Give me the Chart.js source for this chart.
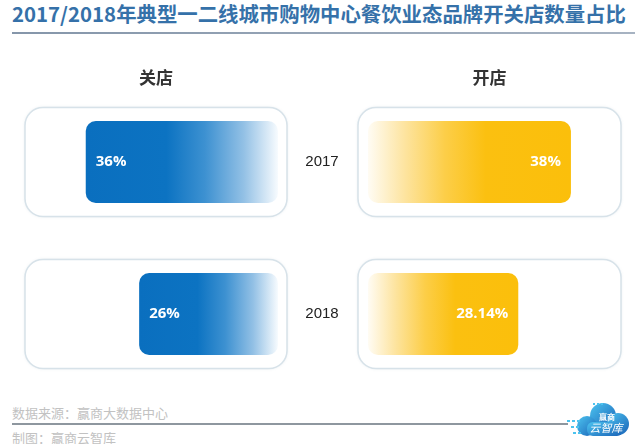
<!DOCTYPE html>
<html>
<head>
<meta charset="utf-8">
<script src="https://cdn.jsdelivr.net/npm/chart.js@4"></script>
<style>
  html, body { margin: 0; padding: 0; background: #fff; }
  body { width: 640px; height: 444px; position: relative; overflow: hidden;
         font-family: "Noto Sans CJK SC", "Noto Sans", sans-serif; }
  #title { position: absolute; left: 12px; top: -2px; font-size: 20.4px; font-weight: bold;
           color: #3571a9; white-space: nowrap; }
  #titleLine { position: absolute; left: 12px; top: 32px; width: 623px; height: 2px;
               background: linear-gradient(to right, #8596aa, #a7b3c2); }
  .box { position: absolute; top: 60px; height: 340px; }
  #srcText, #makeText { position: absolute; left: 12px; font-size: 13px; color: #c2c2c2; white-space: nowrap; }
  #srcText { top: 403px; }
  #makeText { top: 428px; }
  #footLine { position: absolute; left: 12px; top: 423px; width: 556px; height: 2px; background: #8e979f; }
  #logo { position: absolute; left: 563px; top: 398px; }
</style>
</head>
<body>
<div id="title">2017/2018年典型一二线城市购物中心餐饮业态品牌开关店数量占比</div>
<div id="titleLine"></div>

<div class="box" style="left:0; width:300px;"><canvas id="closeChart"></canvas></div>
<div class="box" style="left:300px; width:340px;"><canvas id="openChart"></canvas></div>

<div id="srcText">数据来源：赢商大数据中心</div>
<div id="footLine"></div>
<div id="makeText">制图：赢商云智库</div>
<svg id="logo" width="70" height="44" viewBox="0 0 70 44">
  <defs>
    <linearGradient id="cl" x1="0" y1="0" x2="1" y2="1">
      <stop offset="0" stop-color="#4cc3ef"/>
      <stop offset="1" stop-color="#1a64b8"/>
    </linearGradient>
  </defs>
  <g fill="url(#cl)">
    <circle cx="40" cy="18" r="13"/>
    <circle cx="55" cy="26" r="11"/>
    <circle cx="24" cy="28" r="10"/>
    <rect x="24" y="24" width="36" height="14" rx="6"/>
  </g>
  <g fill="#4cc3ef">
    <rect x="4" y="22" width="3" height="2"/><rect x="9" y="22" width="3" height="2"/><rect x="14" y="22" width="3" height="2"/>
    <rect x="8" y="28" width="3" height="2"/><rect x="13" y="28" width="3" height="2"/>
    <rect x="10" y="34" width="3" height="2"/><rect x="15" y="34" width="3" height="2"/>
    <rect x="30" y="5" width="2" height="2"/><rect x="34" y="5" width="2" height="2"/><rect x="38" y="5" width="2" height="2"/>
  </g>
  <text x="44" y="22" font-size="8" fill="#fff" text-anchor="middle" font-weight="bold">赢商</text>
  <text x="43" y="34" font-size="11" fill="#fff" text-anchor="middle" font-style="italic">云智库</text>
</svg>

<script>
// 数据
const years = ['2017', '2018'];
const closeValues = [36, 26];      // 关店占比 %
const openValues = [38, 28.14];    // 开店占比 %
const closeLabels = ['36%', '26%'];
const openLabels = ['38%', '28.14%'];

const axisMax = 47;

// 面板外框 + 标题 + 数值
function panelPlugin(side, heading) {
    return {
        id: 'panel_' + side,
        beforeDatasetsDraw(chart) {
            const ctx = chart.ctx;
            const area = chart.chartArea;
            const x = chart.scales.x;
            const zero = x.getPixelForValue(0);
            const meta = chart.getDatasetMeta(0);
            let left, right;
            if (side === 'L') { left = area.left - 2; right = zero + 9; }
            else { left = zero - 10; right = area.right + 2; }
            ctx.save();
            meta.data.forEach(bar => {
                ctx.beginPath();
                ctx.roundRect(left, bar.y - 54.5, right - left, 109, 18);
                ctx.shadowColor = 'rgba(120,150,170,0.25)';
                ctx.shadowBlur = 3;
                ctx.fillStyle = '#fff';
                ctx.fill();
                ctx.shadowColor = 'transparent';
                ctx.lineWidth = 1.5;
                ctx.strokeStyle = '#d7e2e9';
                ctx.stroke();
            });
            ctx.fillStyle = '#333';
            ctx.font = 'bold 17px "Noto Sans CJK SC"';
            ctx.textAlign = 'center';
            ctx.textBaseline = 'middle';
            ctx.fillText(heading, (left + right) / 2, area.top - 8);
            ctx.restore();
        },
        afterDatasetsDraw(chart) {
            const ctx = chart.ctx;
            const meta = chart.getDatasetMeta(0);
            const labels = side === 'L' ? closeLabels : openLabels;
            ctx.save();
            ctx.fillStyle = '#fff';
            ctx.font = 'bold 15px "Open Sans"';
            ctx.textBaseline = 'middle';
            meta.data.forEach((bar, i) => {
                if (side === 'L') {
                    ctx.textAlign = 'left';
                    ctx.fillText(labels[i], bar.x + 10, bar.y);
                } else {
                    ctx.textAlign = 'right';
                    ctx.fillText(labels[i], bar.x - 10, bar.y);
                }
            });
            if (side === 'R') {
                ctx.fillStyle = '#222';
                ctx.font = '15px "Liberation Sans"';
                ctx.textAlign = 'center';
                const y = chart.scales.y;
                years.forEach((yr, i) => {
                    ctx.fillText(yr, chart.chartArea.left - 46, y.getPixelForValue(i));
                });
            }
            ctx.restore();
        }
    };
}

function gradientFor(side, values) {
    return (c) => {
        const chart = c.chart;
        if (!chart.chartArea) return side === 'L' ? '#0b71c0' : '#fbbf0b';
        const x = chart.scales.x;
        const p0 = x.getPixelForValue(0);
        const p1 = x.getPixelForValue(values[c.dataIndex]);
        const g = chart.ctx.createLinearGradient(p1, 0, p0, 0);
        if (side === 'L') {
            g.addColorStop(0, '#0a6fbf');
            g.addColorStop(0.42, '#0c73c2');
            g.addColorStop(0.62, '#3d91d1');
            g.addColorStop(0.82, '#92c0e5');
            g.addColorStop(1, '#f7fbfe');
        } else {
            g.addColorStop(0, '#fbbf0b');
            g.addColorStop(0.42, '#fbc010');
            g.addColorStop(0.62, '#fcce48');
            g.addColorStop(0.82, '#fde4a0');
            g.addColorStop(1, '#fffcf4');
        }
        return g;
    };
}

function makeChart(id, side, values, heading, padding) {
    new Chart(document.getElementById(id), {
        type: 'bar',
        data: {
            labels: years,
            datasets: [{
                data: values,
                backgroundColor: gradientFor(side, values),
                borderRadius: 10,
                borderSkipped: false,
                barPercentage: 0.54,
                categoryPercentage: 1,
            }],
        },
        options: {
            indexAxis: 'y',
            responsive: true,
            maintainAspectRatio: false,
            animation: false,
            layout: { padding: padding },
            plugins: {
                legend: { display: false },
                tooltip: { enabled: false },
            },
            scales: {
                x: { display: false, min: 0, max: axisMax, reverse: side === 'L' },
                y: { display: false },
            },
        },
        plugins: [panelPlugin(side, heading)],
    });
}

makeChart('closeChart', 'L', closeValues, '关店', { left: 27, right: 22, top: 26, bottom: 10 });
makeChart('openChart', 'R', openValues, '开店', { left: 68, right: 21, top: 26, bottom: 10 });
</script>
</body>
</html>
